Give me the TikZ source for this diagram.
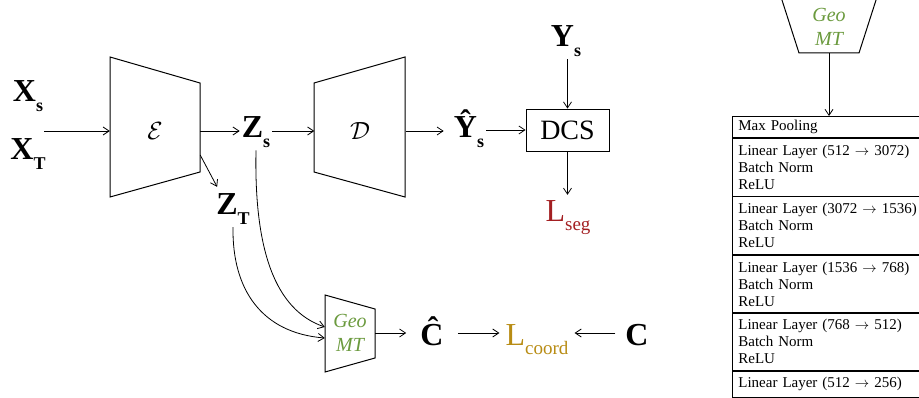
\documentclass[tikz,border=0pt]{standalone}
\usepackage{fontspec}
\setmainfont{Liberation Serif}
\usetikzlibrary{arrows.meta,positioning}

\definecolor{segred}{RGB}{163,31,34}
\definecolor{coordgold}{RGB}{184,140,20}
\definecolor{geogreen}{RGB}{107,154,62}

% bold symbol with a lowered bold subscript
\newcommand{\bvec}[2]{\textbf{#1}\raisebox{-10pt}{\fontsize{18}{18}\selectfont\bfseries #2}}
% loss term L with a lowered subscript
\newcommand{\lossterm}[1]{L\raisebox{-9pt}{\fontsize{19}{19}\selectfont #1}}
% layer size change
\newcommand{\dims}[2]{(#1 $\rightarrow$ #2)}

\begin{document}
\begin{tikzpicture}[x=1pt,y=-1pt,
  >={Straight Barb[length=6pt,width=8pt]},
  conn/.style={->,line width=0.8pt},
  sym/.style={anchor=base,inner sep=2pt,font=\fontsize{32}{32}\selectfont},
  block/.style={line width=1pt},
  geotxt/.style={align=center,font=\fontsize{20}{24}\selectfont\itshape,text=geogreen},
  layer/.style={draw,line width=0.7pt,text width=200,align=left,inner xsep=6pt,inner ysep=3pt,font=\fontsize{15}{17}\selectfont}
]
\useasboundingbox (0,0) rectangle (919,398);
\clip (0,0) rectangle (919,398);

% Encoder
\draw[block] (110,57) -- (200,83) -- (200,172) -- (110,197) -- cycle;
\node[minimum width=90,minimum height=89,font=\fontsize{24}{24}\selectfont] (enc) at (155,131) {$\mathcal{E}$};

% Decoder
\draw[block] (314,83) -- (405,57) -- (405,197) -- (314,172) -- cycle;
\node[minimum width=91,minimum height=89,font=\fontsize{24}{24}\selectfont] (dec) at (360,131) {$\mathcal{D}$};

% Inputs and latent codes
\node[sym] (xs) at (28,102) {\bvec{X}{s}};
\node[sym] (xt) at (28,160) {\bvec{X}{T}};
\coordinate (xin) at (44,131);
\node[sym] (zs) at (256,138) {\bvec{Z}{s}};
\node[sym] (zt) at (233,215) {\bvec{Z}{T}};

\draw[conn] (xin) -- (enc.west);
\draw[conn] (enc.east) -- (enc.east -| zs.west);
\draw[conn] (zs.east |- enc.east) -- (dec.west);
\draw[conn] ([yshift=-24pt]enc.east) -- ([xshift=3pt,yshift=5pt]zt.north west);

% Segmentation branch
\node[sym] (yh) at (469,138) {\bvec{Ŷ}{s}};
\node[draw,line width=0.8pt,minimum width=83,minimum height=42,font=\fontsize{28}{28}\selectfont] (dcs) at (567.5,130) {DCS};
\node[sym] (ys) at (566,47) {\bvec{Y}{s}};
\node[sym,text=segred] (lseg) at (568,222) {\lossterm{seg}};

\draw[conn,shorten >=8pt] (dec.east) -- (dec.east -| yh.west);
\draw[conn] (yh.east |- dcs.west) -- (dcs.west);
\draw[conn] (ys.south -| dcs.north) -- (dcs.north);
\draw[conn,shorten >=4pt] (dcs.south) -- (dcs.south |- lseg.north);

% Geo MT branch
\draw[block] (325,295) -- (375,309) -- (375,358) -- (325,372) -- cycle;
\node[geotxt,minimum width=50,minimum height=49] (geo) at (350,333) {Geo\\MT};

\draw[conn] (zs.south) .. controls (254,250) and (275,310) .. ([yshift=6pt]geo.west);
\draw[conn] (zt.south) .. controls (232,290) and (262,333) .. ([yshift=-5pt]geo.west);

\node[sym,inner xsep=14pt] (chat) at (432,345) {\textbf{Ĉ}};
\node[sym,inner xsep=6pt,text=coordgold] (lcoord) at (537,345) {\lossterm{coord}};
\node[sym,inner xsep=10pt] (cgt) at (637,345) {\textbf{C}};

\draw[conn] (geo.east) -- (geo.east -| chat.west);
\draw[conn] (chat.east |- geo.east) -- (lcoord.west |- geo.east);
\draw[conn] (cgt.west |- geo.east) -- (lcoord.east |- geo.east);

% Geo MT head layers
\draw[block] (781,-3) -- (877,-3) -- (859,53) -- (799,53) -- cycle;
\node[geotxt,minimum height=52] (geotop) at (829,27) {Geo\\MT};

\node[layer,minimum height=21,anchor=north west] (pool) at (732,116) {Max Pooling};
\node[layer,minimum height=58,below=0pt of pool] (lin1) {Linear Layer \dims{512}{3072}\\Batch Norm\\ReLU};
\node[layer,minimum height=58,below=0pt of lin1] (lin2) {Linear Layer \dims{3072}{1536}\\Batch Norm\\ReLU};
\node[layer,minimum height=57,below=0pt of lin2] (lin3) {Linear Layer \dims{1536}{768}\\Batch Norm\\ReLU};
\node[layer,minimum height=57,below=0pt of lin3] (lin4) {Linear Layer \dims{768}{512}\\Batch Norm\\ReLU};
\node[layer,minimum height=26,below=0pt of lin4] (lin5) {Linear Layer \dims{512}{256}};

\draw[conn] (geotop.south) -- (geotop.south |- pool.north);
\end{tikzpicture}
\end{document}
